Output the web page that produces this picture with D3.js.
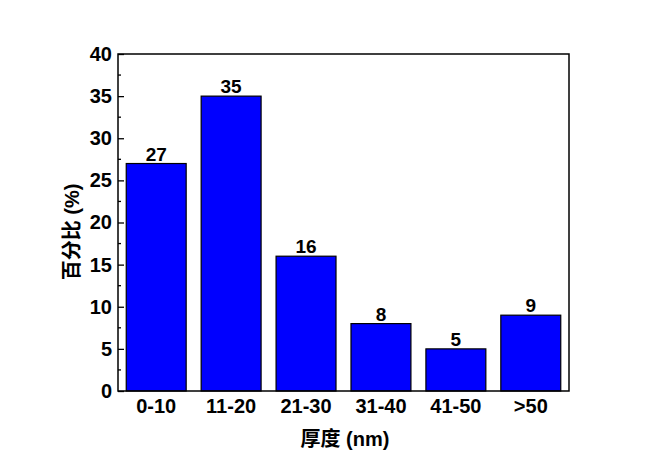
<!DOCTYPE html>
<html>
<head>
<meta charset="utf-8">
<script src="https://cdn.jsdelivr.net/npm/d3@7"></script>
<style>
  body { margin: 0; background: #fff; }
  text { font-family: Arial, "Liberation Sans", "Noto Sans CJK SC", sans-serif; font-weight: bold; fill: #000; }
</style>
</head>
<body>
<div id="chart"></div>
<script>
// thickness bins and their share in percent
const categories = ["0-10", "11-20", "21-30", "31-40", "41-50", ">50"];
const percents = [27, 35, 16, 8, 5, 9];
const yTicks = [0, 5, 10, 15, 20, 25, 30, 35, 40];
const yMinorTicks = [2.5, 7.5, 12.5, 17.5, 22.5, 27.5, 32.5, 37.5];

const W = 664, H = 471;
const margin = { top: 54, right: 95, bottom: 80, left: 118 };
const width = W - margin.left - margin.right;
const height = H - margin.top - margin.bottom;

const svg = d3.select("#chart").append("svg")
    .attr("width", W)
    .attr("height", H);

const g = svg.append("g")
    .attr("transform", `translate(${margin.left}, ${margin.top})`);

const x = d3.scaleBand()
    .domain(categories)
    .range([0, width])
    .paddingInner(0.2)
    .paddingOuter(0.11);

const y = d3.scaleLinear()
    .domain([0, 40])
    .range([height, 0]);

// bars
g.selectAll(".bar")
    .data(percents)
    .enter()
    .append("rect")
    .attr("class", "bar")
    .attr("x", (d, i) => x(categories[i]))
    .attr("y", d => y(d))
    .attr("width", x.bandwidth())
    .attr("height", d => y(0) - y(d))
    .attr("fill", "#0000ff")
    .attr("stroke", "#000")
    .attr("stroke-width", 1.2);

// value labels
g.selectAll(".val")
    .data(percents)
    .enter()
    .append("text")
    .attr("class", "val")
    .attr("x", (d, i) => x(categories[i]) + x.bandwidth() / 2)
    .attr("y", d => y(d) - 3)
    .attr("text-anchor", "middle")
    .style("font-size", "19px")
    .text(d => d);

// frame
g.append("rect")
    .attr("width", width)
    .attr("height", height)
    .attr("fill", "none")
    .attr("stroke", "#000")
    .attr("stroke-width", 1.5);

// y axis ticks (inward)
const yAxis = d3.axisLeft(y).tickValues(yTicks).tickSize(-6).tickPadding(6);
const ya = g.append("g").call(yAxis);
ya.select(".domain").remove();
ya.selectAll("line").attr("stroke-width", 1.3);
ya.selectAll("text").style("font-size", "20px").attr("font-family", null).attr("font-size", null);

g.append("g").selectAll("line")
    .data(yMinorTicks)
    .enter()
    .append("line")
    .attr("x1", 0)
    .attr("x2", 3)
    .attr("y1", d => y(d))
    .attr("y2", d => y(d))
    .attr("stroke", "#000")
    .attr("stroke-width", 1.3);

// x axis labels
const xAxis = d3.axisBottom(x).tickSize(0).tickPadding(8);
const xa = g.append("g").attr("transform", `translate(0, ${height})`).call(xAxis);
xa.select(".domain").remove();
xa.selectAll("text").style("font-size", "20px").attr("font-family", null).attr("font-size", null);

// axis titles
svg.append("text")
    .attr("x", 345)
    .attr("y", 446)
    .attr("text-anchor", "middle")
    .style("font-size", "20px")
    .text("厚度 (nm)");

svg.append("text")
    .attr("transform", `translate(79, 232) rotate(-90)`)
    .attr("text-anchor", "middle")
    .style("font-size", "20px")
    .text("百分比 (%)");
</script>
</body>
</html>
